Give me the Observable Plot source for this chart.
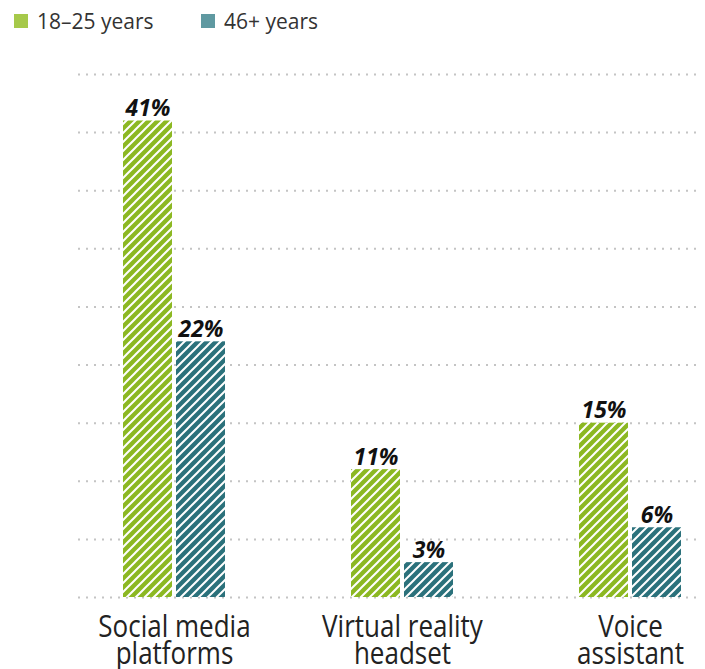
<!DOCTYPE html>
<html>
<head>
<meta charset="utf-8">
<script src="https://cdn.jsdelivr.net/npm/d3@7"></script>
<script src="https://cdn.jsdelivr.net/npm/@observablehq/plot@0.6"></script>
<style>
  html, body { margin: 0; padding: 0; background: #fff; }
  body { font-family: "Open Sans", sans-serif; width: 705px; height: 669px; overflow: hidden; }
  #legend { height: 40px; position: relative; font-size: 21px; color: #333; }
  .item { position: absolute; top: 7px; height: 28px; display: flex; align-items: center; white-space: nowrap; }
  .sw { width: 14px; height: 14px; margin-right: 9px; }
</style>
</head>
<body>
<div id="legend"></div>
<div id="chart"></div>
<script>
const categories = ["Social media\nplatforms", "Virtual reality\nheadset", "Voice\nassistant"];
const seriesNames = ["18–25 years", "46+ years"];
const young = [41, 11, 15];
const older = [22, 3, 6];
const yTicks = [0, 5, 10, 15, 20, 25, 30, 35, 40, 45];
const barColors = ["#8cb822", "#2b717b"];
const legendColors = ["#a6c94a", "#5f99a1"];

const data = [];
categories.forEach((c, i) => {
  data.push({category: c, series: seriesNames[0], value: young[i]});
  data.push({category: c, series: seriesNames[1], value: older[i]});
});

// legend
const legend = d3.select("#legend");
const legendX = [14, 201];
seriesNames.forEach((s, i) => {
  const it = legend.append("div").attr("class", "item").style("left", legendX[i] + "px");
  it.append("div").attr("class", "sw").style("background", legendColors[i]);
  it.append("span").text(s);
});

const patternIds = ["hatch0", "hatch1"];
const fills = patternIds.map(id => `url(#${id})`);

const s0 = data.filter(d => d.series === seriesNames[0]);
const s1 = data.filter(d => d.series === seriesNames[1]);

const labelStyle = {fontSize: 23, fontWeight: "bold", fontStyle: "italic", fill: "#111", lineAnchor: "bottom", dy: -5};

const plot = Plot.plot({
  width: 705,
  height: 629,
  marginTop: 34,
  marginBottom: 72,
  marginLeft: 78,
  marginRight: 3,
  style: {fontFamily: "'Open Sans', sans-serif", background: "#fff"},
  x: {domain: categories, range: [123, 681], paddingInner: 0.553, paddingOuter: 0, label: null},
  y: {domain: [0, 45], axis: null},
  marks: [
    Plot.ruleY(yTicks, {stroke: "#c4c4c4", strokeWidth: 2, strokeDasharray: "2 6"}),
    Plot.barY(s0, {x: "category", y: "value", fill: fills[0], insetRight: 53, insetLeft: 0}),
    Plot.barY(s1, {x: "category", y: "value", fill: fills[1], insetLeft: 53, insetRight: 0}),
    Plot.text(s0, {x: "category", y: "value", text: d => d.value + "%", dx: -26.5, ...labelStyle}),
    Plot.text(s1, {x: "category", y: "value", text: d => d.value + "%", dx: 26.5, ...labelStyle}),
    Plot.axisX({tickSize: 0, tickPadding: 21, fontSize: 26, lineHeight: 0.84, label: null, color: "#222"})
  ]
});

// hatch patterns
const svg = d3.select(plot);
const defs = svg.insert("defs", ":first-child");
patternIds.forEach((id, i) => {
  const p = defs.append("pattern").attr("id", id).attr("patternUnits", "userSpaceOnUse")
    .attr("width", 9).attr("height", 9);
  p.append("rect").attr("width", 9).attr("height", 9).attr("fill", barColors[i]);
  p.append("path").attr("d", "M-2,2 L2,-2 M0,9 L9,0 M7,11 L11,7")
    .attr("stroke", "#fff").attr("stroke-width", 2);
});

// the reference's axis labels are vertically taller than their width suggests
svg.selectAll('g[aria-label="x-axis tick label"] text').each(function() {
  const t = d3.select(this);
  const tr = t.attr("transform") || "";
  t.attr("transform", tr + " scale(1,1.22)");
});

document.getElementById("chart").appendChild(plot);
</script>
</body>
</html>
